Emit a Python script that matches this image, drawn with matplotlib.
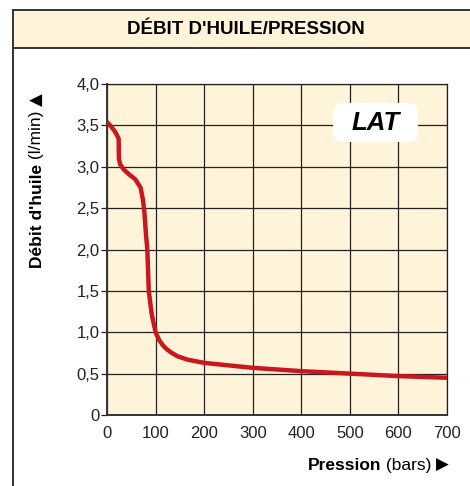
import matplotlib
matplotlib.use("Agg")
import matplotlib.pyplot as plt
from matplotlib.patches import FancyBboxPatch
from matplotlib.lines import Line2D

# oil flow vs pressure
pression = [0, 8, 17, 24, 24.5, 27, 34, 45, 58, 69, 74, 77, 80, 83, 86, 92,
            100, 107, 114, 122, 131, 145, 165, 200, 250, 300, 400, 500, 600, 700]
debit = [3.54, 3.49, 3.42, 3.34, 3.10, 3.03, 2.97, 2.91, 2.85, 2.75, 2.60,
         2.45, 2.20, 2.00, 1.50, 1.22, 1.00, 0.91, 0.85, 0.80, 0.76, 0.71,
         0.67, 0.63, 0.60, 0.57, 0.53, 0.50, 0.47, 0.45]

xticks = [0, 100, 200, 300, 400, 500, 600, 700]
yticks = [0, 0.5, 1.0, 1.5, 2.0, 2.5, 3.0, 3.5, 4.0]
ytick_labels = ["0", "0,5", "1,0", "1,5", "2,0", "2,5", "3,0", "3,5", "4,0"]

CREAM = "#fff4d9"
RED = "#c8171e"
W, H = 470, 486

fig = plt.figure(figsize=(W / 100, H / 100), dpi=100)
fig.patch.set_facecolor("white")

narrow = ["Liberation Sans Narrow", "Liberation Sans", "DejaVu Sans"]
regular = ["Liberation Sans", "DejaVu Sans"]

# outer frame + title band
band = plt.Rectangle((13 / W, 1 - 48 / H), 1 - 13 / W, 38 / H, transform=fig.transFigure,
                     facecolor=CREAM, edgecolor="none", zorder=0)
fig.patches.append(band)
for xs, ys in [([13, W], [10, 10]), ([13, W], [48, 48]), ([13, 13], [10, H])]:
    fig.lines.append(Line2D([x / W for x in xs], [1 - y / H for y in ys],
                            transform=fig.transFigure, color="#333333", lw=1.4))
fig.text(246 / W, 1 - 29 / H, "DÉBIT D'HUILE/PRESSION", ha="center", va="center",
         fontsize=13.5, fontweight="bold", family=narrow)

ax = fig.add_axes([107 / W, 1 - 415 / H, 340 / W, 331 / H])
ax.set_facecolor(CREAM)
ax.plot(pression, debit, color=RED, lw=3.2, solid_capstyle="round",
        solid_joinstyle="round", zorder=3)
ax.set_xlim(0, 700)
ax.set_ylim(0, 4)
ax.set_xticks(xticks)
ax.set_yticks(yticks)
ax.set_yticklabels(ytick_labels)
ax.grid(True, color="#222222", lw=0.9)
ax.set_axisbelow(True)
ax.tick_params(axis="x", length=0, pad=8, labelsize=12, colors="#222222")
ax.tick_params(axis="y", length=4, width=0.9, pad=1.5, labelsize=12, colors="#222222")
for lab in ax.get_xticklabels() + ax.get_yticklabels():
    lab.set_family(regular)
for side in ["top", "right"]:
    ax.spines[side].set_linewidth(0.9)
    ax.spines[side].set_color("#222222")
for side in ["left", "bottom"]:
    ax.spines[side].set_linewidth(1.4)
    ax.spines[side].set_color("#333333")

# LAT badge
ax.add_patch(FancyBboxPatch((0.665, 0.825), 0.25, 0.118, transform=ax.transAxes,
                            boxstyle="round,pad=0,rounding_size=0.03",
                            facecolor="white", edgecolor="none", zorder=4,
                            mutation_aspect=1.0))
ax.text(0.79, 0.882, "LAT", transform=ax.transAxes, ha="center", va="center",
        fontsize=18.5, fontweight="bold", fontstyle="italic", family=regular, zorder=5)

# axis titles made of bold + regular pieces
renderer = fig.canvas.get_renderer()


def chain(pieces, x0, y0, vertical=False, align_end=False):
    texts = []
    for s, weight, fam, size in pieces:
        t = fig.text(0, 0, s, fontweight=weight, family=fam, fontsize=size,
                     rotation=90 if vertical else 0,
                     ha="left" if not vertical else "center",
                     va="center" if not vertical else "bottom")
        texts.append(t)
    sizes = []
    for t in texts:
        bb = t.get_window_extent(renderer)
        sizes.append(bb.height if vertical else bb.width)
    total = sum(sizes)
    pos = x0 - total if (align_end and not vertical) else (y0 if vertical else x0)
    for t, sz in zip(texts, sizes):
        if vertical:
            t.set_position((x0 / W, pos / H))
        else:
            t.set_position((pos / W, y0 / H))
        pos += sz


chain([("Débit d'huile", "bold", narrow, 12.5), (" (l/min) ", "normal", narrow, 12.5),
       ("▲", "normal", ["DejaVu Sans"], 12)], 37, H - 268, vertical=True)
chain([("Pression", "bold", narrow, 12.5), (" (bars) ", "normal", narrow, 12.5),
       ("▶", "normal", ["DejaVu Sans"], 12)], 449, H - 465, align_end=True)

fig.savefig("out.png", dpi=100)
